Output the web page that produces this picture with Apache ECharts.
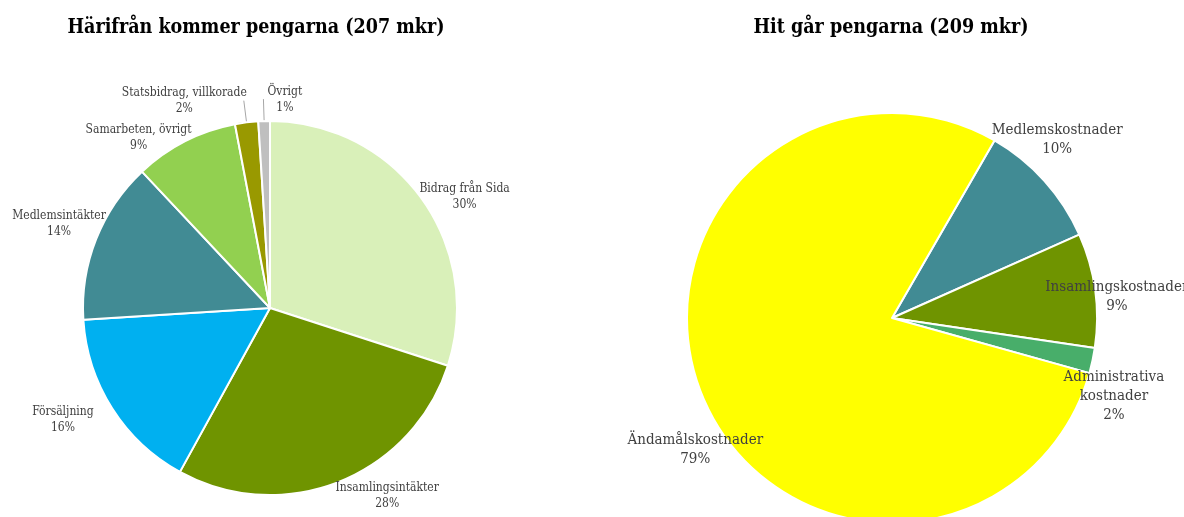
<!DOCTYPE html>
<html>
<head>
<meta charset="utf-8">
<script src="https://cdn.jsdelivr.net/npm/echarts@6/dist/echarts.min.js"></script>
<style>
  html, body { margin: 0; background: #fff; }
  #main { width: 1184px; height: 517px; }
</style>
</head>
<body>
<div id="main"></div>
<script>
// intäkter (vänster)
var incomeNames = ['Bidrag från Sida', 'Insamlingsintäkter', 'Försäljning', 'Medlemsintäkter', 'Samarbeten, övrigt', 'Statsbidrag, villkorade', 'Övrigt'];
var incomeValues = [30, 28, 16, 14, 9, 2, 1];
var incomeColors = ['#d9f0b9', '#6f9400', '#00b0f0', '#418b94', '#92d050', '#999900', '#bfbfbf'];

// kostnader (höger)
var costNames = ['Medlemskostnader', 'Insamlingskostnader', 'Administrativa\nkostnader', 'Ändamålskostnader'];
var costValues = [10, 9, 2, 79];
var costColors = ['#418b94', '#6f9400', '#48ae6a', '#ffff00'];

var FONT = '"DejaVu Serif Condensed", "DejaVu Serif", serif';

// små justeringar av etiketternas placering (som i Excel-diagrammet)
var incomeNudge = {
  'Bidrag från Sida': { dx: -14, dy: 5 },
  'Insamlingsintäkter': { dx: -11, dy: 5 },
  'Försäljning': { dx: -6, dy: 6 },
  'Medlemsintäkter': { dx: 23, dy: -12 },
  'Samarbeten, övrigt': { dx: 15, dy: 5 },
  'Statsbidrag, villkorade': { dx: 7, dy: 0 },
  'Övrigt': { align: 'left', dx: 8, dy: 1 }
};
var costNudge = {
  'Medlemskostnader': { dx: -8, dy: -22 },
  'Insamlingskostnader': { dx: -6, dy: 10 },
  'Administrativa\nkostnader': { dx: -6, dy: 30 },
  'Ändamålskostnader': { dx: 19, dy: 44 }
};

var chart = echarts.init(document.getElementById('main'));

// namn + procent, raderna centrerade
function labelText(p) {
  return p.name.split('\n').map(function (s) { return '{a|' + s + '}'; }).join('\n') +
    '\n{a|' + p.value + '%}';
}

var incomeData = incomeNames.map(function (n, i) {
  var item = { name: n, value: incomeValues[i], itemStyle: { color: incomeColors[i] } };
  if (incomeValues[i] < 5) {
    item.labelLine = { show: true, length: 22, length2: 0 };
  }
  return item;
});

var costData = costNames.map(function (n, i) {
  return { name: n, value: costValues[i], itemStyle: { color: costColors[i] } };
});

chart.setOption({
  animation: false,
  title: [{
    text: 'Härifrån kommer pengarna (207 mkr)',
    left: 251, top: 13, textAlign: 'center',
    textStyle: { fontFamily: FONT, fontSize: 19.5, fontWeight: 'bold', color: '#000' }
  }, {
    text: 'Hit går pengarna (209 mkr)',
    left: 886, top: 13, textAlign: 'center',
    textStyle: { fontFamily: FONT, fontSize: 19.5, fontWeight: 'bold', color: '#000' }
  }],
  series: [{
    type: 'pie',
    center: [270, 308],
    radius: 187,
    startAngle: 90,
    clockwise: true,
    avoidLabelOverlap: false,
    itemStyle: { borderColor: '#fff', borderWidth: 2 },
    label: {
      show: true,
      position: 'outside',
      formatter: labelText,
      overflow: 'none',
      color: '#404040',
      fontFamily: FONT,
      fontSize: 12,
      lineHeight: 16,
      distanceToLabelLine: 4,
      rich: { a: { align: 'center', color: '#404040', fontFamily: FONT, fontSize: 12, lineHeight: 16 } }
    },
    labelLine: { show: false, length: 10, length2: 0, lineStyle: { color: '#a6a6a6', width: 1 } },
    labelLayout: function (p) { return incomeNudge[incomeNames[p.dataIndex]] || {}; },
    emphasis: { disabled: true },
    data: incomeData
  }, {
    type: 'pie',
    center: [892, 318],
    radius: 205,
    startAngle: 60,
    clockwise: true,
    avoidLabelOverlap: false,
    itemStyle: { borderColor: '#fff', borderWidth: 2 },
    label: {
      show: true,
      position: 'outside',
      formatter: labelText,
      overflow: 'none',
      color: '#404040',
      fontFamily: FONT,
      fontSize: 15,
      lineHeight: 19,
      distanceToLabelLine: 0,
      rich: { a: { align: 'center', color: '#404040', fontFamily: FONT, fontSize: 15, lineHeight: 19 } }
    },
    labelLine: { show: false, length: 28, length2: 0 },
    labelLayout: function (p) {
      var n = costNudge[costNames[p.dataIndex]] || {};
      return { align: 'center', dx: n.dx || 0, dy: n.dy || 0 };
    },
    emphasis: { disabled: true },
    data: costData
  }]
});
</script>
</body>
</html>
